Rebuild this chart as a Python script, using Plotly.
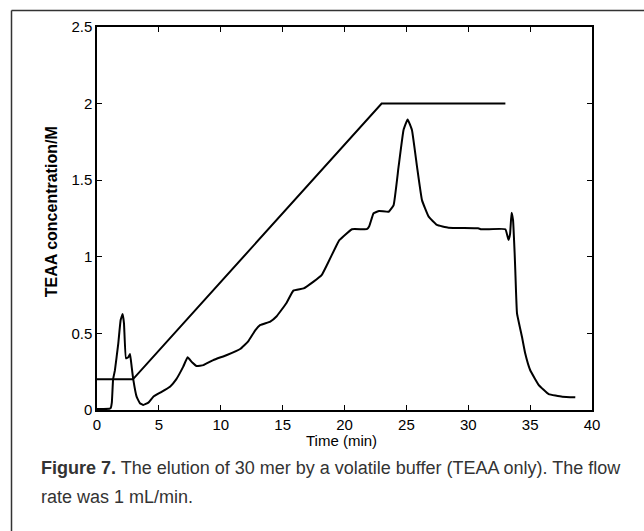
import plotly.graph_objects as go

# Chromatogram trace (time in min, signal on TEAA-concentration scale)
trace_time = [0, 0.5, 1.0, 1.1, 1.2, 1.3, 1.45, 1.72, 1.91, 2.07, 2.18, 2.34, 2.53, 2.67, 2.8, 2.93,
              3.2, 3.47, 3.74, 4.15, 4.55, 5.1, 5.9, 6.4, 6.97, 7.32, 7.7, 8.05, 8.6, 9.4, 10.5,
              11.6, 12.2, 12.8, 13.2, 14.0, 14.5, 15.3, 15.87, 16.7, 17.5, 18.15, 18.6, 19.3, 19.6,
              20.6, 21.8, 22.0, 22.35, 22.8, 23.57, 23.97, 24.37, 24.77, 25.1, 25.45, 25.86, 26.26,
              26.8, 27.47, 28.4, 30.8, 31.0, 31.5, 33.0, 33.25, 33.38, 33.5, 33.62, 33.75, 33.8,
              33.94, 34.34, 34.6, 35.0, 35.7, 36.5, 37.6, 38.65]
trace_signal = [0.007, 0.007, 0.008, 0.012, 0.05, 0.2, 0.26, 0.435, 0.587, 0.627, 0.566, 0.337, 0.345,
                0.365, 0.283, 0.2, 0.087, 0.044, 0.033, 0.048, 0.087, 0.113, 0.152, 0.2, 0.283, 0.344,
                0.31, 0.287, 0.293, 0.326, 0.359, 0.40, 0.446, 0.522, 0.555, 0.577, 0.61, 0.697, 0.779,
                0.794, 0.838, 0.88, 0.95, 1.066, 1.11, 1.18, 1.18, 1.2, 1.284, 1.299, 1.294, 1.338,
                1.588, 1.828, 1.897, 1.828, 1.588, 1.37, 1.262, 1.208, 1.19, 1.186, 1.18, 1.18, 1.18,
                1.11, 1.15, 1.288, 1.24, 1.02, 0.914, 0.631, 0.478, 0.37, 0.261, 0.163, 0.104, 0.087,
                0.083]

# Gradient profile
grad_time = [0, 2.9, 23.0, 33.0]
grad_conc = [0.2, 0.2, 2.0, 2.0]

x_ticks = [0, 5, 10, 15, 20, 25, 30, 35, 40]
y_ticks = [0, 0.5, 1, 1.5, 2, 2.5]
y_tick_text = ["0", "0.5", "1", "1.5", "2", "2.5"]

caption_1 = "<b>Figure 7.</b> The elution of 30 mer by a volatile buffer (TEAA only). The flow"
caption_2 = "rate was 1 mL/min."

W, H = 644, 531
L, R, T, B = 97, 592, 26.5, 410
pw, ph = R - L, B - T

def px(x):
    return (x - L) / pw

def py(y):
    return (B - y) / ph

fig = go.Figure()
fig.add_trace(go.Scatter(x=grad_time, y=grad_conc, mode="lines",
                         line=dict(color="black", width=2), hoverinfo="skip"))
fig.add_trace(go.Scatter(x=trace_time, y=trace_signal, mode="lines",
                         line=dict(color="black", width=2, shape="spline", smoothing=0.3),
                         hoverinfo="skip"))

axis_common = dict(showgrid=False, zeroline=False, showline=True, linecolor="black",
                   linewidth=1.5, mirror="ticks", ticks="inside", ticklen=5, tickwidth=1.2,
                   tickcolor="black",
                   tickfont=dict(family="Liberation Sans, Arial, sans-serif", size=15, color="black"))

fig.update_layout(
    width=W, height=H,
    margin=dict(l=L, r=W - R, t=T, b=H - B, pad=0),
    paper_bgcolor="white", plot_bgcolor="white",
    showlegend=False,
    xaxis=dict(range=[0, 40], tickvals=x_ticks, **axis_common),
    yaxis=dict(range=[0, 2.5], tickvals=y_ticks, ticktext=y_tick_text, **axis_common),
    shapes=[
        dict(type="line", xref="paper", yref="paper", x0=px(11.5), x1=px(11.5),
             y0=py(10), y1=py(540), line=dict(color="#333333", width=1.5)),
        dict(type="line", xref="paper", yref="paper", x0=px(11.5), x1=px(650),
             y0=py(10), y1=py(10), line=dict(color="#333333", width=1.5)),
    ],
    annotations=[
        dict(text="<b>TEAA concentration/M</b>", xref="paper", yref="paper",
             x=px(51), y=py(212), textangle=-90, showarrow=False,
             xanchor="center", yanchor="middle",
             font=dict(family="Liberation Sans, Arial, sans-serif", size=16, color="black")),
        dict(text="Time (min)", xref="paper", yref="paper",
             x=px(341), y=py(441), showarrow=False, xanchor="center", yanchor="middle",
             font=dict(family="Liberation Sans, Arial, sans-serif", size=15, color="black")),
        dict(text=caption_1, xref="paper", yref="paper",
             x=px(39), y=py(468), showarrow=False, xanchor="left", yanchor="middle",
             font=dict(family="Liberation Sans, Arial, sans-serif", size=18, color="#333333")),
        dict(text=caption_2, xref="paper", yref="paper",
             x=px(39), y=py(497), showarrow=False, xanchor="left", yanchor="middle",
             font=dict(family="Liberation Sans, Arial, sans-serif", size=18, color="#333333")),
    ],
)

fig.write_html("out.html", config={"displayModeBar": False})
